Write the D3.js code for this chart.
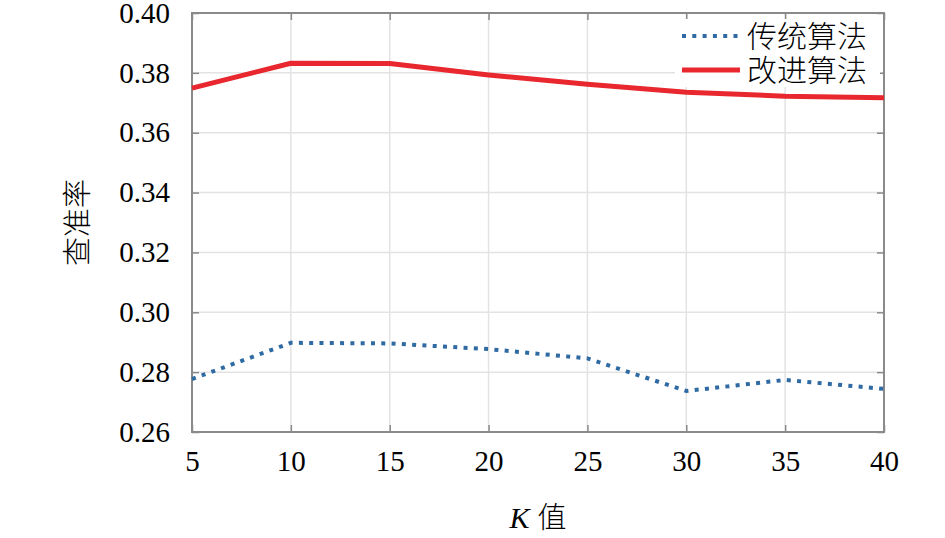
<!DOCTYPE html>
<html>
<head>
<meta charset="utf-8">
<script src="https://cdn.jsdelivr.net/npm/d3@7/dist/d3.min.js"></script>
<style>
  html, body { margin: 0; padding: 0; background: #fff; }
  svg { display: block; }
</style>
</head>
<body>
<svg id="chart" width="945" height="538"></svg>
<script>
const kValues = [5, 10, 15, 20, 25, 30, 35, 40];
const traditional = [0.2777, 0.2898, 0.2896, 0.2877, 0.2846, 0.2737, 0.2774, 0.2744];
const improved = [0.3749, 0.3832, 0.3831, 0.3793, 0.3762, 0.3735, 0.3722, 0.3717];
const xTicks = [5, 10, 15, 20, 25, 30, 35, 40];
const yTicks = [0.26, 0.28, 0.30, 0.32, 0.34, 0.36, 0.38, 0.40];
const seriesNames = ["传统算法", "改进算法"];

const svg = d3.select("#chart");
const L = 192, R = 884, T = 13, B = 432;
const x = d3.scaleLinear().domain([5, 40]).range([L, R]);
const y = d3.scaleLinear().domain([0.26, 0.40]).range([B, T]);

const numFont = "Liberation Serif, Times New Roman, serif";
const cjkFont = "Noto Sans CJK SC, sans-serif";

// grid
const grid = svg.append("g");
grid.selectAll(".gx").data(xTicks).join("line")
  .attr("x1", d => x(d)).attr("x2", d => x(d)).attr("y1", T).attr("y2", B)
  .attr("stroke", "#e3e3e3").attr("stroke-width", 1.5);
grid.selectAll(".gy").data(yTicks).join("line")
  .attr("y1", d => y(d)).attr("y2", d => y(d)).attr("x1", L).attr("x2", R)
  .attr("stroke", "#e3e3e3").attr("stroke-width", 1.5);

// axes
const axisColor = "#8a8a8a";
function styleAxis(g, showText) {
  g.select(".domain").remove();
  g.attr("font-family", numFont).attr("font-size", 29);
  g.selectAll(".tick line").attr("stroke", axisColor).attr("stroke-width", 1.5);
  g.selectAll(".tick text").attr("fill", "#000").attr("font-family", numFont).attr("font-size", 29);
  if (!showText) g.selectAll(".tick text").remove();
}
const xAxis = svg.append("g").attr("transform", `translate(0,${B})`)
  .call(d3.axisBottom(x).tickValues(xTicks).tickSize(-7).tickPadding(18).tickFormat(d3.format("d")));
styleAxis(xAxis, true);
const xAxisTop = svg.append("g").attr("transform", `translate(0,${T})`)
  .call(d3.axisTop(x).tickValues(xTicks).tickSize(-7));
styleAxis(xAxisTop, false);
const yAxis = svg.append("g").attr("transform", `translate(${L},0)`)
  .call(d3.axisLeft(y).tickValues(yTicks).tickSize(-7).tickPadding(22).tickFormat(d3.format(".2f")));
styleAxis(yAxis, true);
const yAxisR = svg.append("g").attr("transform", `translate(${R},0)`)
  .call(d3.axisRight(y).tickValues(yTicks).tickSize(-7));
styleAxis(yAxisR, false);

// box
svg.append("rect").attr("x", L).attr("y", T).attr("width", R - L).attr("height", B - T)
  .attr("fill", "none").attr("stroke", axisColor).attr("stroke-width", 2);

// lines
const line = d3.line().x((d, i) => x(kValues[i])).y(d => y(d));
svg.append("path").datum(improved).attr("d", line)
  .attr("fill", "none").attr("stroke", "#e8282e").attr("stroke-width", 5).attr("stroke-linejoin", "round");
svg.append("path").datum(traditional).attr("d", line)
  .attr("fill", "none").attr("stroke", "#2f6aa3").attr("stroke-width", 4)
  .attr("stroke-dasharray", "4,6.3");

// legend
const lg = svg.append("g");
lg.append("rect").attr("x", 675).attr("y", 19).attr("width", 205).attr("height", 68).attr("fill", "#fff");
const legendItems = [
  { name: seriesNames[0], color: "#2f6aa3", dash: "4,6.3", w: 4, yy: 36 },
  { name: seriesNames[1], color: "#e8282e", dash: null, w: 5, yy: 70 }
];
legendItems.forEach(it => {
  lg.append("line").attr("x1", 682).attr("x2", 740).attr("y1", it.yy).attr("y2", it.yy)
    .attr("stroke", it.color).attr("stroke-width", it.w)
    .attr("stroke-dasharray", it.dash);
  lg.append("text").attr("x", 747).attr("y", it.yy).attr("dy", "0.36em")
    .attr("font-family", cjkFont).attr("font-size", 30).attr("font-weight", 300)
    .attr("fill", "#000").text(it.name);
});

// axis labels
const xl = svg.append("text").attr("x", (L + R) / 2).attr("y", 528).attr("text-anchor", "middle")
  .attr("fill", "#000");
xl.append("tspan").attr("font-family", numFont).attr("font-style", "italic").attr("font-size", 30).text("K");
xl.append("tspan").attr("dx", 8).attr("font-family", cjkFont).attr("font-size", 29).attr("font-weight", 300).text("值");

svg.append("text").attr("transform", `translate(88,${(T + B) / 2}) rotate(-90)`)
  .attr("text-anchor", "middle")
  .attr("font-family", cjkFont).attr("font-size", 29).attr("font-weight", 300)
  .attr("fill", "#000").text("查准率");
</script>
</body>
</html>
